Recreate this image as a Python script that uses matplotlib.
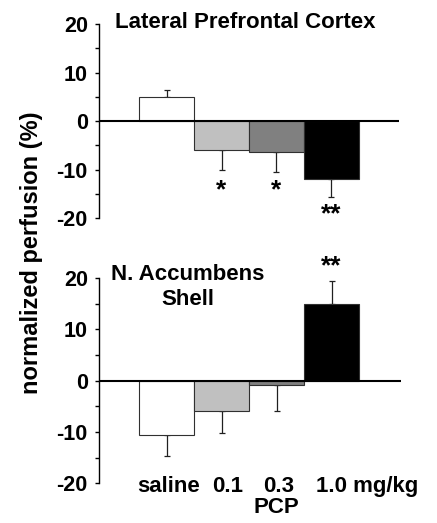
import matplotlib.pyplot as plt

plt.rcParams['font.family'] = ['Liberation Sans', 'DejaVu Sans']
plt.rcParams['font.weight'] = 'bold'
plt.rcParams['axes.unicode_minus'] = False

# dose groups
doses = ['saline', '0.1', '0.3', '1.0 mg/kg']
colors = ['white', '#c0c0c0', '#808080', 'black']

# lateral prefrontal cortex
lpfc_mean = [5.0, -6.0, -6.3, -12.0]
lpfc_err = [1.5, 4.1, 4.2, 3.6]
lpfc_stars = ['', '*', '*', '**']

# nucleus accumbens shell
nac_mean = [-10.6, -6.0, -0.9, 14.9]
nac_err = [4.1, 4.2, 5.0, 4.6]
nac_stars = ['', '', '', '**']

fig = plt.figure(figsize=(4.37, 5.23), dpi=100)
ax1 = fig.add_axes([0.2265, 0.583, 0.6865, 0.371])
ax2 = fig.add_axes([0.2265, 0.076, 0.691, 0.392])


def panel(ax, mean, err, stars, star_pos, xmax):
    x = range(len(mean))
    ax.bar(x, mean, width=1.0, color=colors, edgecolor='#303030', linewidth=0.8, zorder=2)
    # one-sided error bars pointing away from zero
    for i, (m, e) in enumerate(zip(mean, err)):
        lo, hi = (0, e) if m >= 0 else (e, 0)
        ax.errorbar(i, m, yerr=[[lo], [hi]], fmt='none', ecolor='#202020',
                    elinewidth=0.9, capsize=2, capthick=0.9, zorder=1)
    for i, s in enumerate(stars):
        if s:
            ax.text(i, star_pos[i], s, ha='center', va='center', fontsize=19, fontweight='bold')
    ax.axhline(0, color='black', linewidth=1.5, zorder=3)
    ax.set_ylim(-20, 20)
    ax.set_xlim(-1.23, xmax)
    ax.set_yticks([-20, -10, 0, 10, 20])
    ax.set_yticks([-15, -5, 5, 15], minor=True)
    ax.tick_params(axis='y', which='both', length=3, width=1, labelsize=15.5, pad=5)
    for lab in ax.get_yticklabels():
        lab.set_fontweight('bold')
    ax.set_xticks([])
    for sp in ['top', 'right', 'bottom']:
        ax.spines[sp].set_visible(False)
    ax.spines['left'].set_linewidth(1)


panel(ax1, lpfc_mean, lpfc_err, lpfc_stars, [0, -14.2, -14.2, -19.2], 4.23)
panel(ax2, nac_mean, nac_err, nac_stars, [0, 0, 0, 22.3], 4.26)

ax1.text(0.487, 1.01, 'Lateral Prefrontal Cortex', transform=ax1.transAxes,
         ha='center', va='center', fontsize=16, fontweight='bold')
ax2.text(0.295, 18.3, 'N. Accumbens\nShell', transform=ax2.get_yaxis_transform(),
         ha='center', va='center', fontsize=16, fontweight='bold', linespacing=1.2)

# dose labels under the lower panel
label_x = [0.03, 1.1, 2.03, 2.72]
label_ha = ['center', 'center', 'center', 'left']
for xv, s, ha in zip(label_x, doses, label_ha):
    ax2.text(xv, -20.6, s, ha=ha, va='center', fontsize=16, fontweight='bold', clip_on=False)
ax2.text(2.0, -24.8, 'PCP', ha='center', va='center', fontsize=16, fontweight='bold', clip_on=False)

fig.text(0.072, 0.516, 'normalized perfusion (%)', rotation=90, ha='center', va='center',
         fontsize=17, fontweight='bold')

fig.savefig('out.png', dpi=100)
